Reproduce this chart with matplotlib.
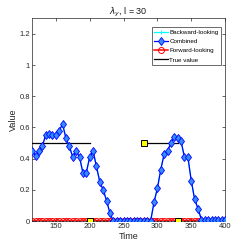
import numpy as np
import matplotlib
matplotlib.use("Agg")
import matplotlib.pyplot as plt

plt.rcParams['font.family'] = ['Liberation Sans', 'DejaVu Sans']

# time grid of the estimators (step 5)
time = list(range(115, 401, 5))

combined = [0.45, 0.42, 0.45, 0.48, 0.55, 0.56, 0.55, 0.55, 0.58, 0.62,
            0.53, 0.48, 0.41, 0.45, 0.41, 0.31, 0.31, 0.41, 0.45, 0.35,
            0.25, 0.20, 0.13, 0.05, 0.0, 0.0, 0.0, 0.0, 0.0, 0.0,
            0.0, 0.0, 0.0, 0.0, 0.0, 0.0, 0.12, 0.21, 0.33, 0.43,
            0.45, 0.50, 0.54, 0.53, 0.51, 0.41, 0.41, 0.26, 0.14, 0.08,
            0.01, 0.01, 0.01, 0.01, 0.01, 0.01, 0.01, 0.01]
backward = combined
forward = [0.0] * len(time)

# true value: piecewise constant segments (NaN breaks between them)
true_x = [115, 200, np.nan, 200, 280, np.nan, 280, 330, np.nan, 330, 400]
true_y = [0.5, 0.5, np.nan, 0.0, 0.0, np.nan, 0.5, 0.5, np.nan, 0.0, 0.0]
change_x = [200, 280, 330]
change_y = [0.0, 0.5, 0.0]

fig = plt.figure(figsize=(2.49, 2.49), dpi=100)
ax = fig.add_axes([0.129, 0.112, 0.775, 0.815])

ax.plot(time, forward, '-o', color='red', markersize=4.3, markeredgewidth=0.7,
        markerfacecolor='none', linewidth=1.1, label='Forward-looking', zorder=2)
ax.plot(true_x, true_y, '-', color='black', linewidth=0.9, label='True value', zorder=3)
ax.plot(time, backward, '-+', color='cyan', markersize=3, markeredgewidth=0.6,
        linewidth=0.9, label='Backward-looking', zorder=3.5)
ax.plot(time, combined, '-d', color='blue', markersize=4.3, markeredgewidth=0.6,
        markerfacecolor=(0.2, 0.55, 1.0), linewidth=0.9, label='Combined', zorder=4)
ax.plot(change_x, change_y, 's', color='black', markerfacecolor='yellow',
        markersize=4.3, markeredgewidth=0.7, zorder=6)

ax.set_xlim(115, 400)
ax.set_ylim(0, 1.3)
ax.set_xticks([150, 200, 250, 300, 350, 400])
ax.set_yticks([0, 0.2, 0.4, 0.6, 0.8, 1, 1.2])
ax.set_yticklabels(['0', '0.2', '0.4', '0.6', '0.8', '1', '1.2'])
ax.tick_params(direction='in', length=2, width=0.5, labelsize=5.5, colors='0.15',
               top=True, right=True, pad=1.5)
for s in ax.spines.values():
    s.set_linewidth(0.5)
    s.set_color('0.15')

ax.set_xlabel('Time', fontsize=6.5, labelpad=1, color='0.15')
ax.set_ylabel('Value', fontsize=6.5, labelpad=1, color='0.15')
ax.set_title(r'$\lambda_y$, l = 30', fontsize=6.5, pad=3, color='0.1')

h, l = ax.get_legend_handles_labels()
order = [2, 3, 0, 1]
leg = ax.legend([h[i] for i in order], [l[i] for i in order], loc='upper right',
                bbox_to_anchor=(0.978, 0.955), prop={'size': 4.5},
                frameon=True, fancybox=False, edgecolor='0.15',
                handlelength=2.2, borderpad=0.35, labelspacing=0.62,
                borderaxespad=0.0, handletextpad=0.3)
leg.get_frame().set_linewidth(0.6)

fig.savefig('out.png', dpi=100)
